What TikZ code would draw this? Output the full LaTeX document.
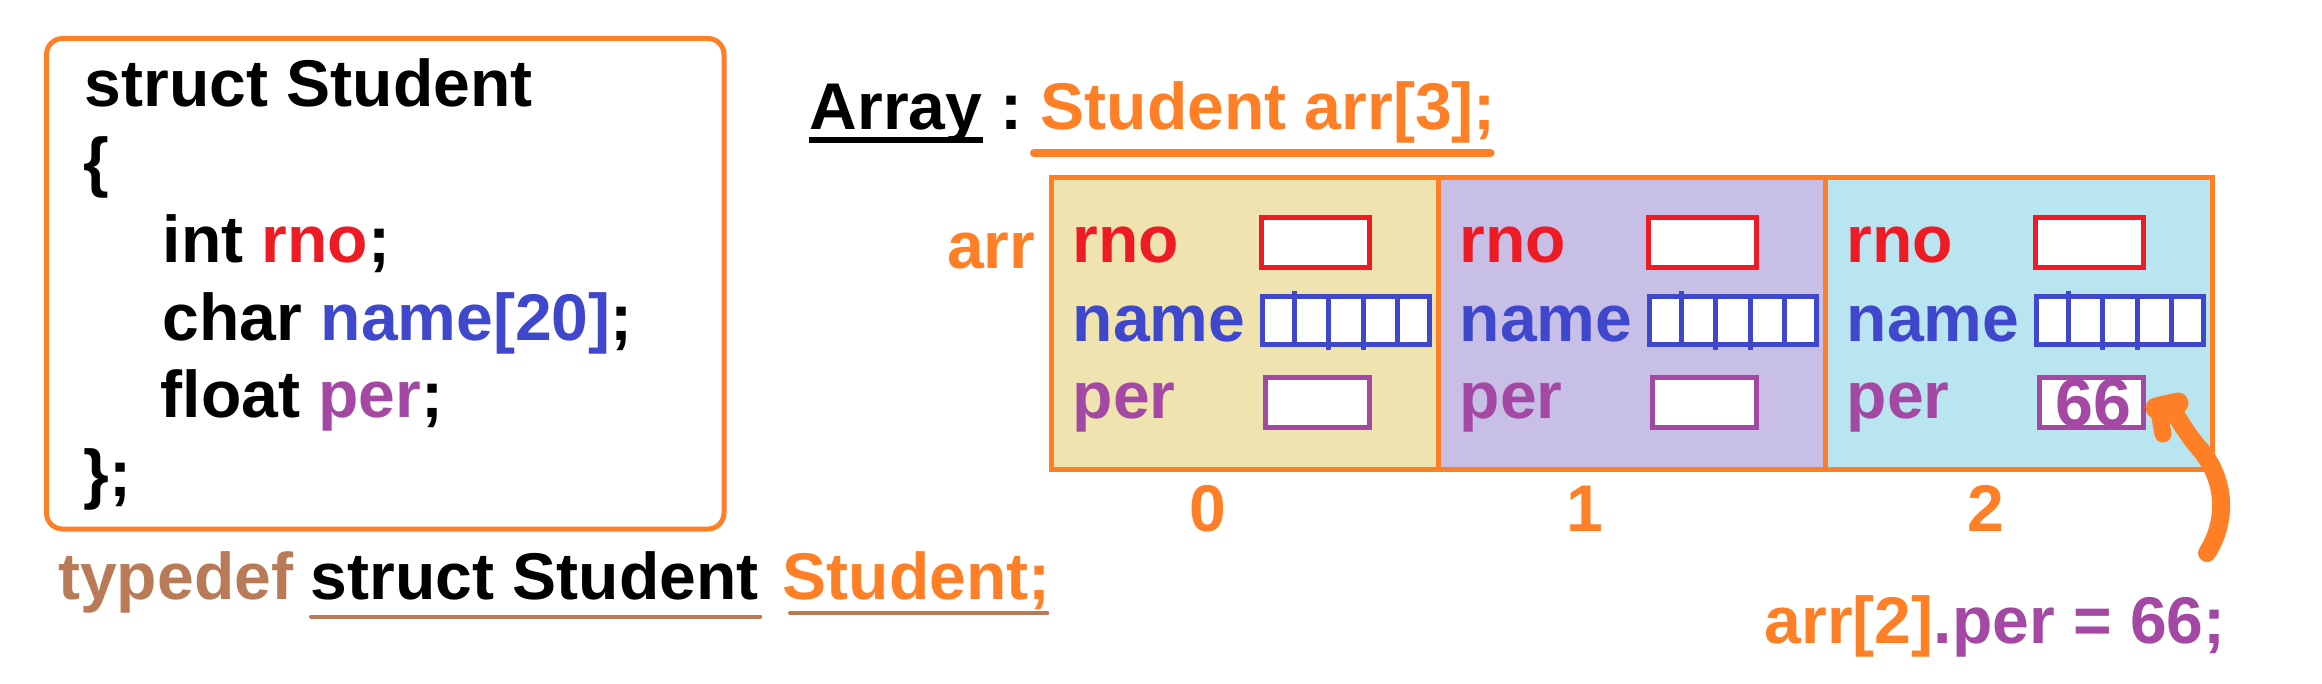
\documentclass[tikz,border=0pt]{standalone}
\usepackage{fontspec}
\setmainfont{Liberation Sans}
\usetikzlibrary{calc}
\definecolor{orng}{HTML}{FF7F27}
\definecolor{rred}{HTML}{ED1C24}
\definecolor{blu}{HTML}{3F48CC}
\definecolor{purp}{HTML}{A349A4}
\definecolor{brwn}{HTML}{B97A57}
\definecolor{cella}{HTML}{EFE4B0}
\definecolor{cellb}{HTML}{C8BFE7}
\definecolor{cellc}{HTML}{B9E5F1}

\begin{document}
\begin{tikzpicture}[x=0.1mm,y=-0.1mm,
    txt/.style={font=\fontsize{18.8}{22}\selectfont\bfseries,inner sep=0pt,anchor=base west},
    field/.style={draw=#1,line width=0.5mm,fill=white,inner sep=0pt,minimum height=5mm},
    cellbox/.style={draw=orng,line width=0.5mm,inner sep=0pt,minimum width=38.7mm,minimum height=29.15mm},
    uline/.style={line width=0.4mm,brwn,line cap=round}]
      \useasboundingbox (0,0) rectangle (2322,684);

      \draw[orng,line width=0.5mm,rounded corners=1.6mm] (46.5,38.5) rectangle (724,529);
      \node[txt] (l1) at (84,107) {struct Student};
      \node[txt] (l2) at (83,185) {\{};
      \node[txt] (l3) at (162,263) {int \textcolor{rred}{rno};};
      \node[txt] (l4) at (162,341) {char \textcolor{blu}{name[20]};};
      \node[txt] (l5) at (160,418) {float \textcolor{purp}{per};};
      \node[txt] (l6) at (83,496) {\};};

      \node[txt,brwn] (td) at (57.5,599) {typedef};
      \node[txt] (ts) at (310,599) {struct Student};
      \node[txt,orng] (tn) at (782,599) {Student;};
      \draw[uline] ($(ts.base west)+(1,17.5)$) -- ($(ts.base east)+(1,17.5)$);
      \draw[uline] ($(tn.base west)+(8,14)$) -- ($(tn.base east)+(-4,14)$);

      \node[txt] (ah) at (809,130) {Array};
      \draw[line width=0.6mm] ($(ah.base west)+(0,10)$) -- ($(ah.base east)+(0,10)$);
      \node[txt] (colon) at (1000,130) {:};
      \node[txt,orng] (decl) at (1040,130) {Student arr[3];};
      \draw[orng,line width=0.8mm,line cap=round] ($(decl.base west)+(-6,23)$) -- ($(decl.base east)+(-6,23)$);

      \foreach \i/\c in {0/cella,1/cellb,2/cellc}{
        \node[cellbox,fill=\c] (cell\i) at ({1244.5+387*\i},323.75) {};
        \node[txt,rred] (rl\i) at ({1072+387*\i},263) {rno};
        \node[txt,blu] (nl\i) at ({1072+387*\i},342) {name};
        \node[txt,purp] (pl\i) at ({1072+387*\i},419) {per};
        \node[field=rred,minimum width=10.8mm] (rb\i) at ({1315.5+387*\i},242.5) {};
        \node[field=blu,minimum width=16.7mm,minimum height=4.8mm] (nb\i) at ({1346+387*\i},320.5) {};
        \node[field=purp,minimum width=10.4mm] (pb\i) at ({1317.5+387*\i},402.5) {};
        \foreach \k in {1,...,4}
          \draw[blu,line width=0.5mm] ($(nb\i.north west)!\k/5!(nb\i.north east)$) -- ($(nb\i.south west)!\k/5!(nb\i.south east)$);
        \draw[blu,line width=0.5mm] ($(nb\i.north west)!1/5!(nb\i.north east)$) -- +(0,-3);
        \draw[blu,line width=0.5mm] ($(nb\i.south west)!2/5!(nb\i.south east)$) -- +(0,3);
        \draw[blu,line width=0.5mm] ($(nb\i.south west)!3/5!(nb\i.south east)$) -- +(0,3);
      }
      \node[txt,orng,anchor=base east] (al) at (1036,269) {arr};

      \foreach \i/\xx in {0/1208,1/1585,2/1986}
        \node[txt,orng,anchor=base] (ix\i) at (\xx,531) {\i};

      \node[txt,purp,anchor=base,font=\fontsize{19.4}{22}\selectfont\bfseries] (v66) at (2093,426) {66};

      \coordinate (tail) at (2207,553);
      \coordinate (head) at (2174,412);
      \draw[orng,line width=1.8mm,line cap=round] (tail) .. controls (2228,520) and (2226,478) .. (2198,447) .. controls (2188,435) and (2180,422) .. (head);
      \draw[orng,line width=2.1mm,line cap=round] (2156,408) -- (2178,403);
      \draw[orng,line width=1.7mm,line cap=round] (2159,412) -- (2163,434);

      \node[txt] (asg) at (1764,643) {\textcolor{orng}{arr[2]}\textcolor{purp}{.per = 66;}};
\end{tikzpicture}
\end{document}
